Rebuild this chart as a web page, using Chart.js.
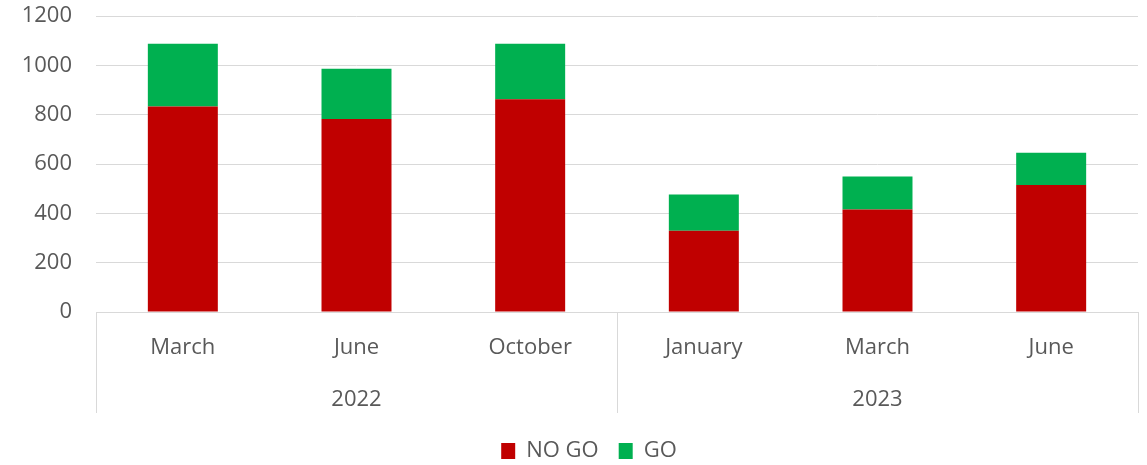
<!DOCTYPE html>
<html>
<head>
<meta charset="utf-8">
<script src="https://cdn.jsdelivr.net/npm/chart.js@4"></script>
<style>
  html, body { margin: 0; padding: 0; background: #ffffff; }
  #wrap { width: 1147px; height: 465px; }
</style>
</head>
<body>
<div id="wrap"><canvas id="chart" width="1147" height="465"></canvas></div>
<script>
const months = ["March", "June", "October", "January", "March", "June"];
const years = ["2022", "2023"];
const noGo = [833, 782, 862, 329, 416, 515];
const go = [255, 204, 226, 147, 133, 131];
const yTicks = [0, 200, 400, 600, 800, 1000, 1200];

const textColor = "#595959";
const lineColor = "#d9d9d9";
const fontFamily = "'Open Sans', 'Noto Sans', sans-serif";

// vertical separators of the two-level category axis
const separators = {
    id: "separators",
    afterLayout(chart) {
        // nudge the legend to where the original has it
        chart.legend.top += 7;
        chart.legend.bottom += 7;
        chart.legend.left += 20;
        chart.legend.right += 20;
    },
    afterDraw(chart) {
        const x = chart.scales.x;
        const yr = chart.scales.year;
        const ctx = chart.ctx;
        const mid = (x.getPixelForValue(2) + x.getPixelForValue(3)) / 2;
        ctx.save();
        ctx.strokeStyle = lineColor;
        ctx.lineWidth = 1;
        [x.left, mid, x.right].forEach(px => {
            ctx.beginPath();
            ctx.moveTo(Math.round(px) + 0.5, chart.chartArea.bottom);
            ctx.lineTo(Math.round(px) + 0.5, yr.bottom);
            ctx.stroke();
        });
        ctx.restore();
    }
};

new Chart(document.getElementById("chart"), {
    type: "bar",
    data: {
        labels: months,
        datasets: [
            { label: "NO GO", data: noGo, backgroundColor: "#c00000", borderWidth: 0 },
            { label: "GO", data: go, backgroundColor: "#00b050", borderWidth: 0 }
        ]
    },
    options: {
        responsive: false,
        animation: false,
        layout: { padding: { top: 16, right: 9, left: 0, bottom: 0 } },
        datasets: { bar: { categoryPercentage: 1, barPercentage: 0.403 } },
        scales: {
            x: {
                stacked: true,
                afterFit: scale => { scale.height = 50; },
                grid: { display: false, drawTicks: false },
                border: { display: true, color: lineColor },
                ticks: { color: textColor, padding: 23, maxRotation: 0, font: { family: fontFamily, size: 22 } }
            },
            year: {
                type: "category",
                labels: years,
                position: "bottom",
                offset: true,
                afterFit: scale => { scale.height = 51; },
                grid: { display: false, drawTicks: false },
                border: { display: false },
                ticks: { color: textColor, padding: 25, maxRotation: 0, font: { family: fontFamily, size: 22 } }
            },
            y: {
                stacked: true,
                min: 0,
                max: 1200,
                afterBuildTicks: scale => { scale.ticks = yTicks.map(v => ({ value: v })); },
                afterFit: scale => {
                    scale.width = 96;
                    scale.paddingTop = 0;
                    scale.paddingBottom = 0;
                },
                grid: { color: lineColor, drawTicks: false },
                border: { display: false },
                ticks: {
                    color: textColor,
                    padding: 24,
                    callback: value => String(value),
                    font: { family: fontFamily, size: 22 }
                }
            }
        },
        plugins: {
            legend: {
                position: "bottom",
                labels: {
                    color: textColor,
                    boxWidth: 14,
                    boxHeight: 16,
                    padding: 20,
                    font: { family: fontFamily, size: 22 }
                }
            },
            tooltip: { enabled: false }
        }
    },
    plugins: [separators]
});
</script>
</body>
</html>
